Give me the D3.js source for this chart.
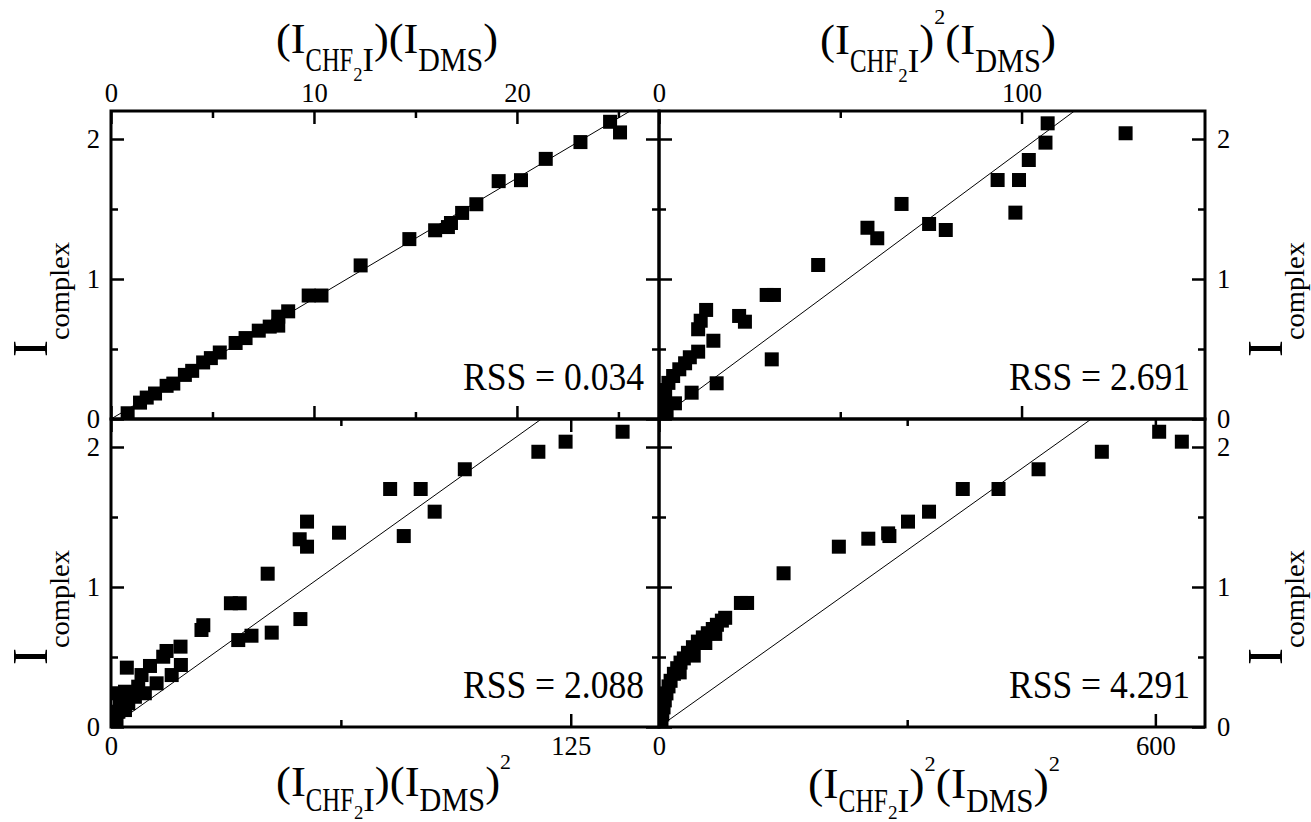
<!DOCTYPE html>
<html>
<head>
<meta charset="utf-8">
<script src="https://cdn.jsdelivr.net/npm/d3@7"></script>
<style>
  body { margin: 0; background: #fff; }
  svg { display: block; }
  svg text { font-family: "Liberation Serif", "Times New Roman", "DejaVu Serif", serif; }
</style>
</head>
<body>
<div id="chart"></div>
<script>
// ---- data: [x, I_complex] ----
const panelA = [ // (I_CHF2I)(I_DMS)
  [0.82, 0.041], [1.43, 0.117], [1.76, 0.153], [2.17, 0.182], [2.74, 0.237],
  [3.07, 0.253], [3.64, 0.315], [4.0, 0.344], [4.54, 0.404], [4.92, 0.435],
  [5.36, 0.475], [6.14, 0.543], [6.63, 0.578], [7.28, 0.631], [7.82, 0.66],
  [8.24, 0.667], [8.24, 0.731], [8.73, 0.769], [9.74, 0.882], [10.37, 0.882],
  [12.3, 1.097], [14.7, 1.285], [15.97, 1.348], [16.6, 1.371], [16.75, 1.40],
  [17.3, 1.472], [18.0, 1.534], [19.1, 1.699], [20.2, 1.706], [21.42, 1.858],
  [23.13, 1.978], [24.59, 2.123], [25.08, 2.047]
];
const panelB = [ // (I_CHF2I)^2(I_DMS)
  [107.2, 2.112], [128.7, 2.041], [106.6, 1.974], [102.0, 1.85], [99.3, 1.707],
  [93.4, 1.707], [66.9, 1.536], [98.3, 1.474], [74.5, 1.393], [57.5, 1.366],
  [79.1, 1.35], [60.2, 1.291], [43.9, 1.10], [29.7, 0.886], [31.7, 0.886],
  [13.0, 0.779], [22.1, 0.736], [23.7, 0.695], [11.5, 0.702], [10.8, 0.641],
  [15.0, 0.559], [10.8, 0.481], [8.5, 0.441], [31.1, 0.426], [7.2, 0.398],
  [5.6, 0.355], [3.9, 0.307], [15.9, 0.255], [2.6, 0.258], [9.0, 0.188],
  [1.7, 0.207], [0.8, 0.17], [4.4, 0.112], [1.4, 0.136], [1.2, 0.064], [2.1, 0.029]
];
const panelC = [ // (I_CHF2I)(I_DMS)^2
  [139.1, 2.109], [123.6, 2.038], [116.2, 1.966], [96.2, 1.841], [75.9, 1.70],
  [84.2, 1.70], [88.0, 1.538], [53.3, 1.467], [62.0, 1.388], [79.6, 1.364],
  [51.3, 1.341], [53.3, 1.288], [42.6, 1.095], [32.6, 0.884], [35.0, 0.884],
  [51.5, 0.771], [25.1, 0.727], [24.6, 0.693], [43.7, 0.674], [38.2, 0.652],
  [34.6, 0.621], [18.9, 0.574], [15.1, 0.543], [14.2, 0.502], [19.0, 0.443],
  [10.6, 0.436], [4.3, 0.424], [16.5, 0.371], [8.3, 0.371], [12.4, 0.312],
  [7.4, 0.288], [3.8, 0.252], [9.2, 0.241], [2.0, 0.241], [6.5, 0.216],
  [2.4, 0.169], [4.7, 0.169], [3.8, 0.121], [2.0, 0.109], [1.5, 0.05]
];
const panelD = [ // (I_CHF2I)^2(I_DMS)^2
  [604.6, 2.109], [632, 2.038], [535.3, 1.966], [458.8, 1.841], [367.2, 1.70],
  [410.4, 1.70], [326.4, 1.538], [301, 1.467], [277, 1.383], [278.5, 1.364],
  [253, 1.345], [217.4, 1.288], [150.6, 1.098], [99, 0.886], [106.5, 0.886],
  [80, 0.78], [76, 0.76], [70, 0.73], [68, 0.665], [65, 0.70], [59, 0.67],
  [56, 0.60], [53, 0.64], [47, 0.61], [42, 0.51], [41, 0.57], [35, 0.53],
  [30, 0.49], [26, 0.46], [25, 0.39], [22, 0.42], [18, 0.38], [14, 0.33],
  [11.5, 0.29], [9, 0.24], [7, 0.19], [5.5, 0.14], [4, 0.09], [3, 0.04]
];

const xMax = [27, 150.6, 149, 660];
const xMajor = [[0, 10, 20], [0, 100], [0, 125], [0, 600]];
const xMinor = [[5, 15, 25], [50], [62.5], [300]];
const yMajor = [0, 1, 2];
const yMinor = [0.5, 1.5];
const yMax = 2.2;
const fitSlope = [0.086, 0.0192, 0.0188, 0.00421];
const rssText = ["RSS = 0.034", "RSS = 2.691", "RSS = 2.088", "RSS = 4.291"];

// ---- layout ----
const width = 1311, height = 822;
const cols = [[111, 659], [659, 1205]];
const rows = [[111, 419], [419, 727]];

const svg = d3.select("#chart").append("svg")
    .attr("width", width)
    .attr("height", height);

// lays out pieces of text one after another (sub/superscripts),
// then squeezes the whole run to the wanted length
function richText(g, parts, fitWidth) {
  const inner = g.append("g");
  let x = 0;
  parts.forEach(p => {
    const sx = p.sx || 1;
    const t = inner.append("text")
        .attr("font-size", p.size)
        .attr("transform", `translate(${x},${p.dy || 0}) scale(${sx},1)`)
        .text(p.t);
    x += t.node().getComputedTextLength() * sx;
  });
  if (fitWidth) inner.attr("transform", `scale(${fitWidth / x},1)`);
}

function iChf(sub, sub2) {
  return [
    {t: "(", size: 43}, {t: "I", size: 43},
    {t: "CHF", size: 33, dy: sub, sx: 0.72}, {t: "2", size: 18, dy: sub + sub2},
    {t: "I", size: 33, dy: sub}, {t: ")", size: 43}
  ];
}
function iDms(sub) {
  return [
    {t: "(", size: 43}, {t: "I", size: 43},
    {t: "DMS", size: 33, dy: sub, sx: 0.88}, {t: ")", size: 43}
  ];
}
function sup2(up) { return [{t: "2", size: 21, dy: -up}]; }

const titles = [
  {x: 276, y: 53, w: 222, parts: [...iChf(18, 10), ...iDms(18)]},
  {x: 820, y: 54, w: 236, parts: [...iChf(18, 10), ...sup2(30), ...iDms(18)]},
  {x: 276, y: 796, w: 235, parts: [...iChf(15, 8), ...iDms(15), ...sup2(27)]},
  {x: 808, y: 798, w: 252, parts: [...iChf(14, 7), ...sup2(27), ...iDms(14), ...sup2(27)]}
];

const panels = [
  {data: panelA, col: 0, row: 0, xSide: "top", ySide: "left"},
  {data: panelB, col: 1, row: 0, xSide: "top", ySide: "right"},
  {data: panelC, col: 0, row: 1, xSide: "bottom", ySide: "left"},
  {data: panelD, col: 1, row: 1, xSide: "bottom", ySide: "right"}
];

panels.forEach((p, i) => {
  const [x0, x1] = cols[p.col], [y0, y1] = rows[p.row];
  const w = x1 - x0, h = y1 - y0;

  const xScale = d3.scaleLinear().domain([0, xMax[i]]).range([0, w]);
  const yScale = d3.scaleLinear().domain([0, yMax]).range([h, 0]);

  const g = svg.append("g").attr("transform", `translate(${x0},${y0})`);

  svg.append("clipPath").attr("id", "clip" + i)
    .append("rect").attr("width", w).attr("height", h);

  const plot = g.append("g").attr("clip-path", `url(#clip${i})`);

  // linear fit
  const lineGen = d3.line()
      .x(d => xScale(d[0]))
      .y(d => yScale(d[1]));
  plot.append("path")
      .attr("d", lineGen([[0, 0], [xMax[i], fitSlope[i] * xMax[i]]]))
      .attr("fill", "none")
      .attr("stroke", "#000")
      .attr("stroke-width", 1);

  // markers
  plot.selectAll("rect.pt")
    .data(p.data)
    .enter().append("rect")
      .attr("class", "pt")
      .attr("x", d => xScale(d[0]) - 7)
      .attr("y", d => yScale(d[1]) - 7)
      .attr("width", 14)
      .attr("height", 14)
      .attr("fill", "#000");

  // ticks on all four sides, pointing inward
  const sides = [
    {gen: d3.axisTop, scale: xScale, tr: [0, 0], lab: p.xSide == "top", major: xMajor[i], minor: xMinor[i], pad: 9},
    {gen: d3.axisBottom, scale: xScale, tr: [0, h], lab: p.xSide == "bottom", major: xMajor[i], minor: xMinor[i], pad: 8},
    {gen: d3.axisLeft, scale: yScale, tr: [0, 0], lab: p.ySide == "left", major: yMajor, minor: yMinor, pad: 11},
    {gen: d3.axisRight, scale: yScale, tr: [w, 0], lab: p.ySide == "right", major: yMajor, minor: yMinor, pad: 12}
  ];
  sides.forEach(s => {
    const major = s.gen(s.scale).tickValues(s.major)
        .tickSizeInner(-13).tickSizeOuter(0).tickPadding(s.pad)
        .tickFormat(s.lab ? d3.format("d") : "");
    const minor = s.gen(s.scale).tickValues(s.minor)
        .tickSizeInner(-7).tickSizeOuter(0).tickFormat("");
    [major, minor].forEach(ax => {
      const a = g.append("g")
          .attr("transform", `translate(${s.tr[0]},${s.tr[1]})`)
          .call(ax)
          .attr("font-family", null)
          .attr("font-size", 28);
      a.select(".domain").remove();
      a.selectAll("line").attr("stroke", "#000").attr("stroke-width", 2.5);
      a.selectAll("text")
          .attr("fill", "#000")
          .filter(function() { return this.textContent.length > 0; })
          .attr("textLength", function() { return this.textContent.length * 13.3; })
          .attr("lengthAdjust", "spacingAndGlyphs");
    });
  });

  // frame
  g.append("rect")
      .attr("width", w).attr("height", h)
      .attr("fill", "none")
      .attr("stroke", "#000")
      .attr("stroke-width", 3);

  // RSS annotation
  g.append("text")
      .attr("x", w - 15)
      .attr("y", h - 29)
      .attr("text-anchor", "end")
      .attr("font-size", 40)
      .attr("textLength", 181)
      .attr("lengthAdjust", "spacingAndGlyphs")
      .text(rssText[i]);

  // x title
  const t = titles[i];
  richText(svg.append("g").attr("transform", `translate(${t.x},${t.y})`), t.parts, t.w);

  // y title, rotated
  const yx = p.ySide == "left" ? 47 : 1282;
  richText(svg.append("g").attr("transform", `translate(${yx},${y1 - 62}) rotate(-90)`),
           [{t: "I", size: 50}, {t: "complex", size: 28, dy: 22}], 115);
});
</script>
</body>
</html>
